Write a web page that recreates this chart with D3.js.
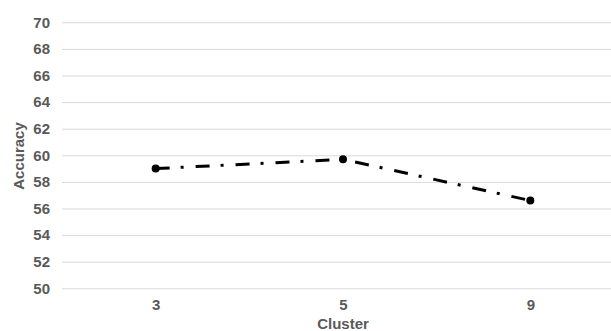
<!DOCTYPE html>
<html>
<head>
<meta charset="utf-8">
<script src="https://cdn.jsdelivr.net/npm/d3@7"></script>
<style>
  html, body { margin: 0; padding: 0; background: #fff; }
  svg { display: block; }
  text { font-family: "Liberation Sans", Arial, sans-serif; }
</style>
</head>
<body>
<svg id="chart" width="611" height="331"></svg>
<script>
// Accuracy by number of clusters
const clusters = ["3", "5", "9"];
const accuracy = [59.0, 59.7, 56.6];
const yTicks = [50, 52, 54, 56, 58, 60, 62, 64, 66, 68, 70];

const svg = d3.select("#chart");
const plot = { left: 62, right: 624, top: 22.3, bottom: 288.3 };

const x = d3.scalePoint().domain(clusters).range([plot.left, plot.right]).padding(0.5);
const y = d3.scaleLinear().domain([50, 70]).range([plot.bottom, plot.top]);

// horizontal gridlines with value labels
const yAxis = d3.axisLeft(y).tickValues(yTicks).tickSize(-(plot.right - plot.left)).tickPadding(12);
const gy = svg.append("g").attr("transform", `translate(${plot.left},0)`).call(yAxis);
gy.select(".domain").remove();
gy.selectAll(".tick line").attr("stroke", "#d9d9d9").attr("stroke-width", 1);
gy.selectAll(".tick text")
  .attr("fill", "#595959").attr("font-size", 15).attr("font-weight", "bold")
  .attr("font-family", "'Liberation Sans', Arial, sans-serif");

// category labels
const xAxis = d3.axisBottom(x).tickSize(0).tickPadding(11);
const gx = svg.append("g").attr("transform", `translate(0,${plot.bottom})`).call(xAxis);
gx.select(".domain").remove();
gx.selectAll(".tick text")
  .attr("fill", "#595959").attr("font-size", 15).attr("font-weight", "bold")
  .attr("font-family", "'Liberation Sans', Arial, sans-serif");

// axis titles
svg.append("text")
  .attr("x", 343).attr("y", 329)
  .attr("text-anchor", "middle")
  .attr("fill", "#595959").attr("font-size", 15).attr("font-weight", "bold")
  .text("Cluster");

svg.append("text")
  .attr("transform", "translate(24,156) rotate(-90)")
  .attr("text-anchor", "middle")
  .attr("fill", "#595959").attr("font-size", 15).attr("font-weight", "bold")
  .text("Accuracy");

// dash-dot series line
const line = d3.line().x((d, i) => x(clusters[i])).y(d => y(d));
svg.append("path")
  .datum(accuracy)
  .attr("d", line)
  .attr("fill", "none")
  .attr("stroke", "#000")
  .attr("stroke-width", 3)
  .attr("stroke-dasharray", "14,11,3,12");

svg.selectAll("circle.pt")
  .data(accuracy)
  .join("circle")
  .attr("class", "pt")
  .attr("cx", (d, i) => x(clusters[i]))
  .attr("cy", d => y(d))
  .attr("r", 4)
  .attr("fill", "#000");
</script>
</body>
</html>
